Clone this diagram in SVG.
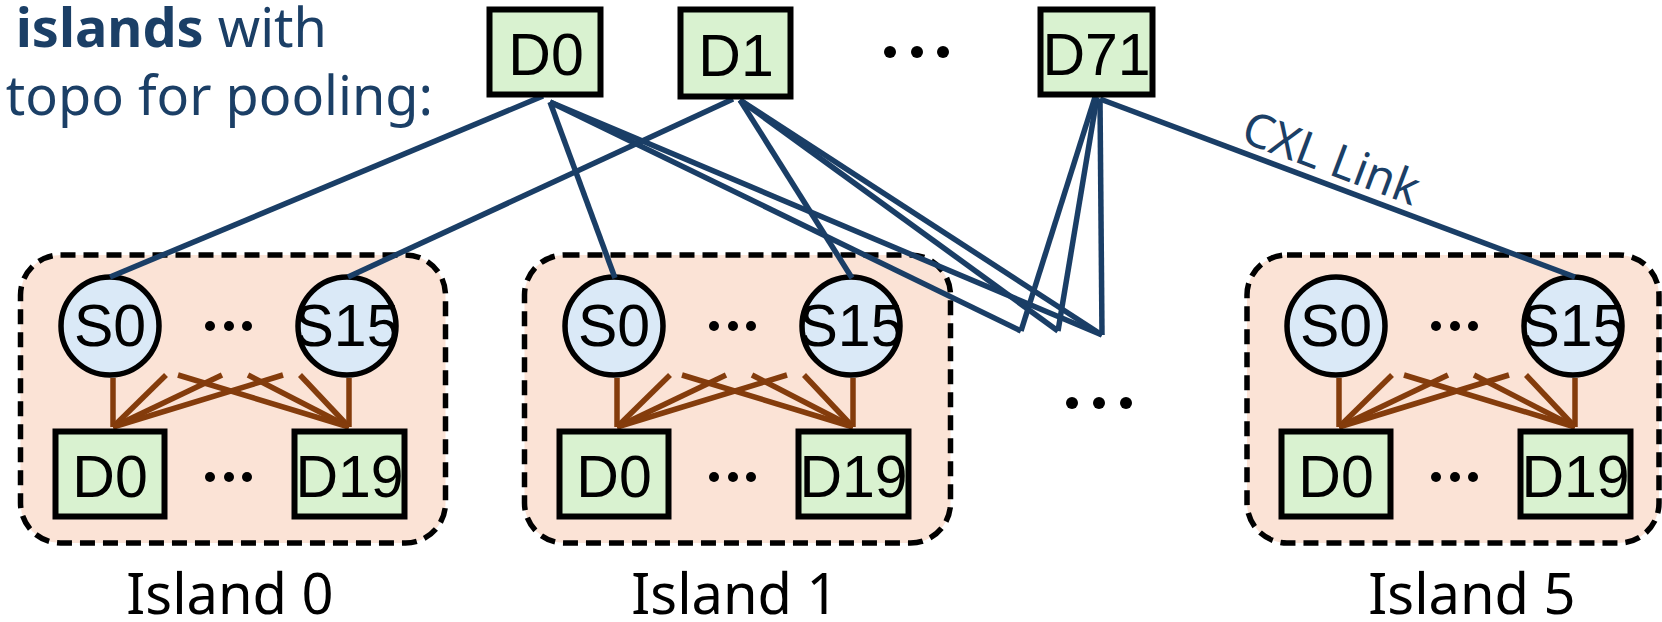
<svg xmlns="http://www.w3.org/2000/svg" width="1662" height="622" viewBox="0 0 1662 622">
  <style>
    .title { font-family: "Noto Sans", "Open Sans", sans-serif; font-size: 54px; fill: #1B3F66; }
    .lbl { font-family: "Noto Sans", "Open Sans", sans-serif; font-size: 56px; fill: #000; text-anchor: middle; }
    .node-t { font-family: "Liberation Sans", Arial, sans-serif; font-size: 59px; fill: #000; text-anchor: middle; }
    .island { fill: #FBE3D6; stroke: #000; stroke-width: 5.5; stroke-dasharray: 15 8; }
    .sw { fill: #DAE9F7; stroke: #000; stroke-width: 5.5; }
    .dev { fill: #D9F2D0; stroke: #000; stroke-width: 6; }
    .cxl { stroke: #1A3E66; stroke-width: 5.5; fill: none; stroke-linecap: butt; }
    .local { stroke: #843C0C; stroke-width: 5.5; fill: none; }
    .dot { fill: #000; }
    .cxl-t { font-family: "Noto Sans", "Open Sans", sans-serif; font-size: 47px; fill: #1B3F66; }
  </style>

  <defs>
    <!-- one pooling island: switches S0..S15 on top, devices D0..D19 below -->
    <g id="island-body">
      <g class="local">
        <line x1="113" y1="427" x2="113" y2="378"/>
        <line x1="113" y1="427" x2="166" y2="375"/>
        <line x1="113" y1="427" x2="222" y2="375"/>
        <line x1="113" y1="427" x2="283" y2="375"/>
        <line x1="349" y1="427" x2="349" y2="378"/>
        <line x1="349" y1="427" x2="300" y2="375"/>
        <line x1="349" y1="427" x2="248" y2="375"/>
        <line x1="349" y1="427" x2="178" y2="375"/>
      </g>
      <circle class="sw" cx="110" cy="326" r="49"/>
      <text class="node-t" x="110" y="346">S0</text>
      <circle class="sw" cx="347" cy="326" r="49"/>
      <text class="node-t" x="347" y="346">S15</text>
      <circle class="dot" cx="210" cy="326" r="5"/>
      <circle class="dot" cx="229" cy="326" r="5"/>
      <circle class="dot" cx="247" cy="326" r="5"/>
      <rect class="dev" x="55.5" y="431.5" width="109" height="85"/>
      <text class="node-t" x="110" y="497">D0</text>
      <rect class="dev" x="294.5" y="431.5" width="110" height="85"/>
      <text class="node-t" x="349.5" y="497">D19</text>
      <circle class="dot" cx="210" cy="477" r="5"/>
      <circle class="dot" cx="229" cy="477" r="5"/>
      <circle class="dot" cx="247" cy="477" r="5"/>
    </g>
  </defs>

  <!-- heading -->
  <text class="title" x="327" y="47" text-anchor="end"><tspan font-weight="bold">islands</tspan> with</text>
  <text class="title" x="433" y="115" text-anchor="end">topo for pooling:</text>

  <!-- islands -->
  <g id="island0">
    <rect class="island" x="20.5" y="255" width="425" height="288" rx="40"/>
    <use href="#island-body"/>
    <text class="lbl" x="230" y="614">Island 0</text>
  </g>
  <g id="island1">
    <rect class="island" x="524.5" y="255" width="426" height="288" rx="40"/>
    <use href="#island-body" transform="translate(504,0)"/>
    <text class="lbl" x="735" y="614">Island 1</text>
  </g>
  <g id="island5">
    <rect class="island" x="1247" y="255" width="412" height="288" rx="40"/>
    <use href="#island-body" transform="translate(1226,0)"/>
    <text class="lbl" x="1472" y="614">Island 5</text>
  </g>

  <!-- CXL links from pooled devices to island switches -->
  <g id="connectors" class="cxl">
    <line x1="543" y1="96" x2="110" y2="277"/>
    <line x1="550" y1="102" x2="615" y2="278"/>
    <line x1="550" y1="102" x2="1021" y2="331"/>
    <line x1="550" y1="102" x2="1102" y2="335"/>
    <line x1="733" y1="99" x2="348" y2="277"/>
    <line x1="740" y1="100" x2="852" y2="278"/>
    <line x1="740" y1="100" x2="1058" y2="331"/>
    <line x1="740" y1="100" x2="1102" y2="335"/>
    <line x1="1095" y1="97" x2="1021" y2="331"/>
    <line x1="1097" y1="97" x2="1058" y2="331"/>
    <line x1="1100" y1="99" x2="1102" y2="335"/>
    <line x1="1100" y1="99" x2="1575" y2="277"/>
  </g>
  <text class="cxl-t" transform="translate(1239,141) rotate(20.5)">CXL Link</text>

  <!-- pooled devices -->
  <g id="pool-d0">
    <rect class="dev" x="489.5" y="9.5" width="111" height="85"/>
    <text class="node-t" x="546" y="75">D0</text>
  </g>
  <g id="pool-d1">
    <rect class="dev" x="680.5" y="9.5" width="110" height="87"/>
    <text class="node-t" x="736" y="76">D1</text>
  </g>
  <g id="pool-gap">
    <circle class="dot" cx="890" cy="52" r="6"/>
    <circle class="dot" cx="917" cy="52" r="6"/>
    <circle class="dot" cx="943" cy="52" r="6"/>
  </g>
  <g id="pool-d71">
    <rect class="dev" x="1040.5" y="9.5" width="112" height="85"/>
    <text class="node-t" x="1096.5" y="75">D71</text>
  </g>

  <!-- further islands elided -->
  <g id="island-gap">
    <circle class="dot" cx="1072" cy="403" r="6"/>
    <circle class="dot" cx="1099" cy="403" r="6"/>
    <circle class="dot" cx="1126" cy="403" r="6"/>
  </g>
</svg>
